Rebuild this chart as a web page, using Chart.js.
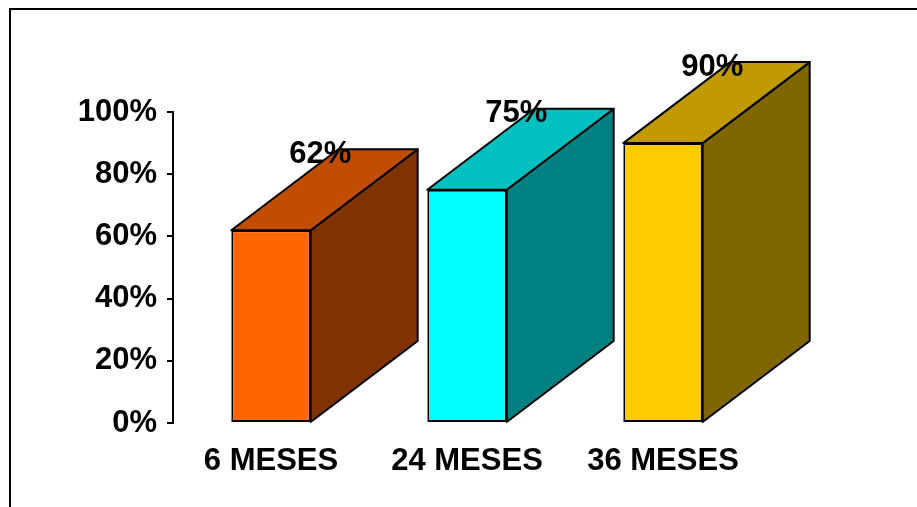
<!DOCTYPE html>
<html lang="es">
<head>
  <meta charset="UTF-8" />
  <title>Meses</title>
  <script src="https://cdn.jsdelivr.net/npm/chart.js@4.4.0/dist/chart.umd.min.js"></script>
  <style>
    html, body { margin: 0; padding: 0; background: #fff; overflow: hidden; }
    #wrap { position: relative; width: 917px; height: 507px; }
    #frame {
      position: absolute; left: 9px; top: 8px;
      width: 1200px; height: 800px;
      border: 2px solid #000; pointer-events: none;
    }
    canvas { position: absolute; left: 0; top: 0; }
  </style>
</head>
<body>
  <div id="wrap">
    <canvas id="chart" width="917" height="507"></canvas>
    <div id="frame"></div>
  </div>

  <script>
    // ---- data ------------------------------------------------------------
    const categories = ['6 MESES', '24 MESES', '36 MESES'];
    const values     = [62, 75, 90];
    const yTicks     = [0, 20, 40, 60, 80, 100];

    // ---- styles ----------------------------------------------------------
    const frontColors = ['#FF6600', '#00FFFF', '#FFCC00'];
    const topColors   = ['#C04D00', '#00C0C0', '#C09A00'];
    const sideColors  = ['#803300', '#008080', '#806600'];
    const FONT = '"Liberation Sans", Arial, sans-serif';
    const DEPTH_X = 107, DEPTH_Y = 81;

    /* side + top faces and value labels for the 3D look */
    const boxes = {
      id: 'boxes',
      afterDatasetsDraw(chart) {
        const ctx  = chart.ctx;
        const meta = chart.getDatasetMeta(0);
        ctx.save();
        ctx.lineWidth = 2;
        ctx.strokeStyle = '#000';
        ctx.lineJoin = 'round';
        meta.data.forEach((bar, i) => {
          const { x, y, base, width } = bar.getProps(['x', 'y', 'base', 'width'], true);
          const l = x - width / 2, r = x + width / 2;

          // side
          ctx.beginPath();
          ctx.moveTo(r, y);
          ctx.lineTo(r + DEPTH_X, y - DEPTH_Y);
          ctx.lineTo(r + DEPTH_X, base - DEPTH_Y);
          ctx.lineTo(r, base);
          ctx.closePath();
          ctx.fillStyle = sideColors[i];
          ctx.fill(); ctx.stroke();

          // top
          ctx.beginPath();
          ctx.moveTo(l, y);
          ctx.lineTo(l + DEPTH_X, y - DEPTH_Y);
          ctx.lineTo(r + DEPTH_X, y - DEPTH_Y);
          ctx.lineTo(r, y);
          ctx.closePath();
          ctx.fillStyle = topColors[i];
          ctx.fill(); ctx.stroke();

          // value label
          ctx.fillStyle = '#000';
          ctx.font = 'bold 31px ' + FONT;
          ctx.textAlign = 'center';
          ctx.textBaseline = 'middle';
          ctx.fillText(values[i] + '%', x + DEPTH_X * 0.46, y - DEPTH_Y + 5);
        });
        ctx.restore();
      }
    };

    new Chart(document.getElementById('chart'), {
      type: 'bar',
      data: {
        labels: categories,
        datasets: [{
          data: values,
          backgroundColor: frontColors,
          borderColor: '#000',
          borderWidth: 2,
          borderSkipped: false,
          categoryPercentage: 1,
          barPercentage: 0.405
        }]
      },
      options: {
        responsive: false,
        animation: false,
        layout: { padding: { top: 112, right: 156, left: 0, bottom: 0 } },
        plugins: { legend: { display: false }, tooltip: { enabled: false } },
        scales: {
          x: {
            afterFit: s => { s.height = 84; },
            grid: { display: false },
            border: { display: false },
            ticks: {
              color: '#000',
              padding: 12,
              font: { family: FONT, size: 31, weight: 'bold' }
            }
          },
          y: {
            min: 0, max: 100,
            afterFit: s => { s.width = 173; },
            afterBuildTicks: s => { s.ticks = yTicks.map(v => ({ value: v })); },
            grid: { drawOnChartArea: false, drawTicks: true, tickLength: 6,
                    color: '#000', lineWidth: 2 },
            border: { display: true, color: '#000', width: 2 },
            ticks: {
              color: '#000',
              padding: 10,
              font: { family: FONT, size: 31, weight: 'bold' },
              callback: v => v + '%'
            }
          }
        }
      },
      plugins: [boxes]
    });
  </script>
</body>
</html>
